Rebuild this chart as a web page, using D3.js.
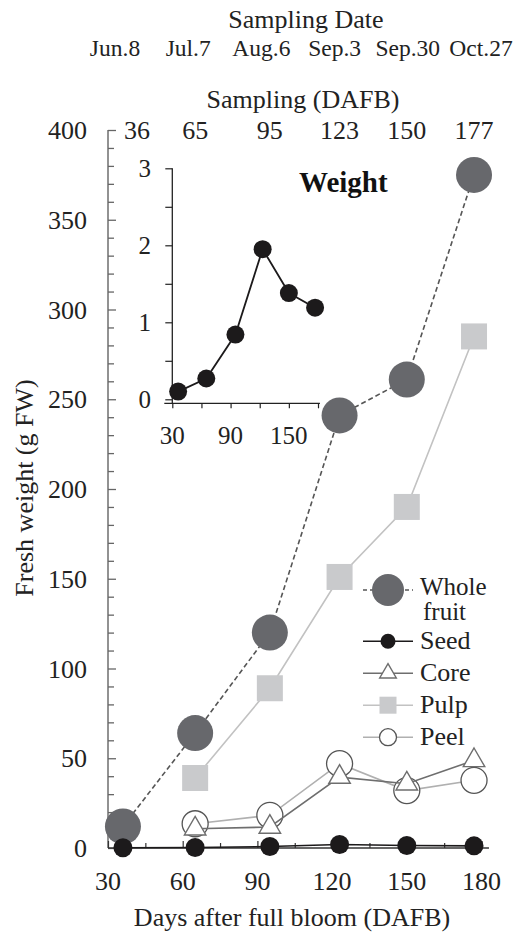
<!DOCTYPE html>
<html><head><meta charset="utf-8">
<script src="https://cdn.jsdelivr.net/npm/d3@7/dist/d3.min.js"></script>
<style>
html,body{margin:0;padding:0;background:#fff;}
svg, svg text{font-family:'Liberation Serif','Times New Roman','DejaVu Serif',serif;}
</style></head>
<body>
<svg id="c" width="532" height="934" font-family="Liberation Serif, Times New Roman, DejaVu Serif, serif"></svg>
<script>
// ---------- data ----------
const days = [36, 65, 95, 123, 150, 177];
const dates = ["Jun.8", "Jul.7", "Aug.6", "Sep.3", "Sep.30", "Oct.27"];
const wholeFruit = [12, 64, 120, 241, 261, 375];
const seed = [0.1, 0.27, 0.84, 1.95, 1.38, 1.19];
const coreDays = [65, 95, 123, 150, 177];
const core = [10.7, 11.7, 39.5, 35.8, 48.8];
const pulp = [39, 89, 151, 190, 285];
const peel = [13.5, 18.2, 47, 32, 37.7];
const yTicks = [0, 50, 100, 150, 200, 250, 300, 350, 400];
const xTicks = [30, 60, 90, 120, 150, 180];
const insetYTicks = [0, 1, 2, 3];
const insetXTicks = [30, 90, 150];
const legendItems = ["Whole fruit", "Seed", "Core", "Pulp", "Peel"];

const svg = d3.select("#c");
const FF = "Liberation Serif, Times New Roman, DejaVu Serif, serif";
const FONT = 26;
function txt(sel) { return sel.attr("font-family", FF).attr("fill", "#222"); }

// ---------- main scales ----------
const x = d3.scaleLinear().domain([30, 180]).range([108, 481.5]);
const y = d3.scaleLinear().domain([0, 400]).range([848, 130]);

// y axis (ticks inward)
const gy = svg.append("g").attr("transform", `translate(${x(30)},0)`);
gy.call(d3.axisRight(y).tickValues(d3.range(0, 401, 10)).tickSize(6).tickFormat(""));
gy.selectAll(".tick line").attr("stroke", "#666").attr("stroke-width", 1.3)
  .attr("x2", d => d % 50 === 0 ? 8 : 6);
gy.select(".domain").attr("stroke", "#777").attr("stroke-width", 1.6).attr("d", `M0,${y(0)}V${y(400)}`);
txt(svg.append("g").selectAll("text").data(yTicks).join("text"))
  .attr("x", 87).attr("y", d => y(d)).attr("dy", "0.35em")
  .attr("text-anchor", "end").attr("font-size", FONT).text(d => d);

// x axis (ticks inward)
const gx = svg.append("g").attr("transform", `translate(0,${y(0)})`);
gx.call(d3.axisTop(x).tickValues(d3.range(30, 181, 15)).tickSize(6).tickFormat(""));
gx.selectAll(".tick line").attr("stroke", "#333").attr("stroke-width", 1.2)
  .attr("y2", d => d % 30 === 0 ? -7 : -5);
gx.select(".domain").attr("stroke", "#333").attr("stroke-width", 1.4).attr("d", `M${x(30)},0H${x(183)}`);
txt(svg.append("g").selectAll("text").data(xTicks).join("text"))
  .attr("x", d => x(d)).attr("y", 890).attr("text-anchor", "middle")
  .attr("font-size", FONT).text(d => d);

txt(svg.append("text")).attr("x", 292).attr("y", 926).attr("text-anchor", "middle")
  .attr("font-size", FONT).text("Days after full bloom (DAFB)");
txt(svg.append("text")).attr("transform", `translate(33,${488}) rotate(-90)`).attr("text-anchor", "middle")
  .attr("font-size", FONT).text("Fresh weight (g FW)");

// top labels
txt(svg.append("text")).attr("x", 306).attr("y", 28).attr("text-anchor", "middle")
  .attr("font-size", FONT).text("Sampling Date");
const xd = d3.scalePoint().domain(dates).range([115, 481]);
txt(svg.append("g").selectAll("text").data(dates).join("text"))
  .attr("x", d => xd(d)).attr("y", 56).attr("text-anchor", "middle")
  .attr("font-size", 23.5).text(d => d);
txt(svg.append("text")).attr("x", 303).attr("y", 108).attr("text-anchor", "middle")
  .attr("font-size", FONT).text("Sampling (DAFB)");
txt(svg.append("g").selectAll("text").data(days).join("text"))
  .attr("x", (d, i) => i === 0 ? x(d) + 14 : x(d)).attr("y", 139).attr("text-anchor", "middle")
  .attr("font-size", FONT).text(d => d);

// ---------- series ----------
const line = d3.line().x(d => x(d[0])).y(d => y(d[1]));
const wf = days.map((d, i) => [d, wholeFruit[i]]);
const sd = days.map((d, i) => [d, seed[i]]);
const co = coreDays.map((d, i) => [d, core[i]]);
const pu = coreDays.map((d, i) => [d, pulp[i]]);
const pe = coreDays.map((d, i) => [d, peel[i]]);

const C_WF = "#67686c", C_WFL = "#555", C_PU = "#c9cacc", C_PUL = "#c2c2c2",
      C_CO = "#6e6e6e", C_PE = "#555", C_PEL = "#b0b0b0", C_SD = "#1c1a1b";

// whole fruit
svg.append("path").datum(wf).attr("d", line).attr("fill", "none")
  .attr("stroke", C_WFL).attr("stroke-width", 1.6).attr("stroke-dasharray", "5,3");
svg.append("g").selectAll("circle").data(wf).join("circle")
  .attr("cx", d => x(d[0])).attr("cy", d => y(d[1])).attr("r", 18).attr("fill", C_WF);

// pulp
svg.append("path").datum(pu).attr("d", line).attr("fill", "none")
  .attr("stroke", C_PUL).attr("stroke-width", 1.6);
svg.append("g").selectAll("rect").data(pu).join("rect")
  .attr("x", d => x(d[0]) - 13).attr("y", d => y(d[1]) - 13).attr("width", 26).attr("height", 26).attr("fill", C_PU);

// peel
svg.append("path").datum(pe).attr("d", line).attr("fill", "none")
  .attr("stroke", C_PEL).attr("stroke-width", 1.6);
svg.append("g").selectAll("circle").data(pe).join("circle")
  .attr("cx", d => x(d[0])).attr("cy", d => y(d[1])).attr("r", 13)
  .attr("fill", "#fff").attr("stroke", C_PE).attr("stroke-width", 1.3);

// core
const tri = d3.symbol().type(d3.symbolTriangle);
svg.append("path").datum(co).attr("d", line).attr("fill", "none")
  .attr("stroke", C_CO).attr("stroke-width", 1.6);
svg.append("g").selectAll("path").data(co).join("path")
  .attr("transform", d => `translate(${x(d[0])},${y(d[1])})`)
  .attr("d", tri.size(200)).attr("fill", "#fff").attr("stroke", C_CO).attr("stroke-width", 1.4);

// seed
svg.append("path").datum(sd).attr("d", line).attr("fill", "none")
  .attr("stroke", C_SD).attr("stroke-width", 1.6);
svg.append("g").selectAll("circle").data(sd).join("circle")
  .attr("cx", d => x(d[0])).attr("cy", d => y(d[1])).attr("r", 9.5).attr("fill", C_SD);

// ---------- inset ----------
const xi = d3.scaleLinear().domain([30, 180]).range([172.3, 318]);
const yi = d3.scaleLinear().domain([0, 3]).range([399.3, 168.3]);
const giy = svg.append("g").attr("transform", `translate(${xi(30)},0)`);
giy.call(d3.axisLeft(yi).tickValues(d3.range(0, 3.01, 0.5)).tickSize(7).tickFormat(""));
giy.selectAll(".tick line").attr("stroke", "#222").attr("stroke-width", 1.2);
giy.select(".domain").attr("stroke", "#222").attr("stroke-width", 1.3).attr("d", `M0,${yi(3)}V${yi(0) + 4}`);
txt(svg.append("g").selectAll("text").data(insetYTicks).join("text"))
  .attr("x", 151).attr("y", d => yi(d)).attr("dy", "0.35em").attr("text-anchor", "end")
  .attr("font-size", 25).text(d => d);

const gix = svg.append("g").attr("transform", `translate(0,${yi(0) + 4})`);
gix.call(d3.axisBottom(xi).tickValues(d3.range(30, 181, 30)).tickSize(5).tickFormat(""));
gix.selectAll(".tick line").attr("stroke", "#222").attr("stroke-width", 1.2);
gix.select(".domain").attr("stroke", "#222").attr("stroke-width", 1.3).attr("d", `M${xi(30) - 8},0H${xi(182)}`);
txt(svg.append("g").selectAll("text").data(insetXTicks).join("text"))
  .attr("x", d => xi(d)).attr("y", 444).attr("text-anchor", "middle")
  .attr("font-size", 25).text(d => d);

const linei = d3.line().x(d => xi(d[0])).y(d => yi(d[1]));
svg.append("path").datum(sd).attr("d", linei).attr("fill", "none").attr("stroke", C_SD).attr("stroke-width", 1.8);
svg.append("g").selectAll("circle").data(sd).join("circle")
  .attr("cx", d => xi(d[0])).attr("cy", d => yi(d[1])).attr("r", 9).attr("fill", C_SD);
txt(svg.append("text")).attr("x", 299).attr("y", 192).attr("font-size", 29).attr("font-weight", "bold")
  .attr("fill", "#111").text("Weight");

// ---------- legend ----------
const slot = d3.scaleLinear().domain([0, 1]).range([590, 622]);
const legendSlots = [0, 1.6, 2.6, 3.6, 4.6];
const lg = svg.append("g");
const lx0 = 363, lx1 = 413, lcx = 388, ltx = 420;
legendItems.forEach((name, i) => {
  const cy = slot(legendSlots[i]);
  const g = lg.append("g");
  const ln = g.append("line").attr("x1", lx0).attr("x2", lx1).attr("y1", cy).attr("y2", cy).attr("stroke-width", 1.6);
  if (name === "Whole fruit") {
    ln.attr("stroke", C_WFL).attr("stroke-dasharray", "4,3");
    g.append("circle").attr("cx", lcx).attr("cy", cy).attr("r", 16).attr("fill", C_WF);
    const t = txt(g.append("text")).attr("font-size", 25);
    t.append("tspan").attr("x", ltx).attr("y", cy + 5).text("Whole");
    t.append("tspan").attr("x", ltx + 3).attr("y", cy + 30).text("fruit");
    return;
  }
  if (name === "Seed") {
    ln.attr("stroke", C_SD);
    g.append("circle").attr("cx", lcx).attr("cy", cy).attr("r", 7.5).attr("fill", C_SD);
  } else if (name === "Core") {
    ln.attr("stroke", C_CO);
    g.append("path").attr("transform", `translate(${lcx},${cy})`).attr("d", d3.symbol().type(d3.symbolTriangle).size(120)())
      .attr("fill", "#fff").attr("stroke", C_CO).attr("stroke-width", 1.4);
  } else if (name === "Pulp") {
    ln.attr("stroke", C_PUL);
    g.append("rect").attr("x", lcx - 8.5).attr("y", cy - 8.5).attr("width", 17).attr("height", 17).attr("fill", C_PU);
  } else if (name === "Peel") {
    ln.attr("stroke", C_PEL);
    g.append("circle").attr("cx", lcx).attr("cy", cy).attr("r", 8.5).attr("fill", "#fff").attr("stroke", C_PE).attr("stroke-width", 1.3);
  }
  txt(g.append("text")).attr("x", ltx).attr("y", cy + 8).attr("font-size", FONT).text(name);
});
</script>
</body></html>
